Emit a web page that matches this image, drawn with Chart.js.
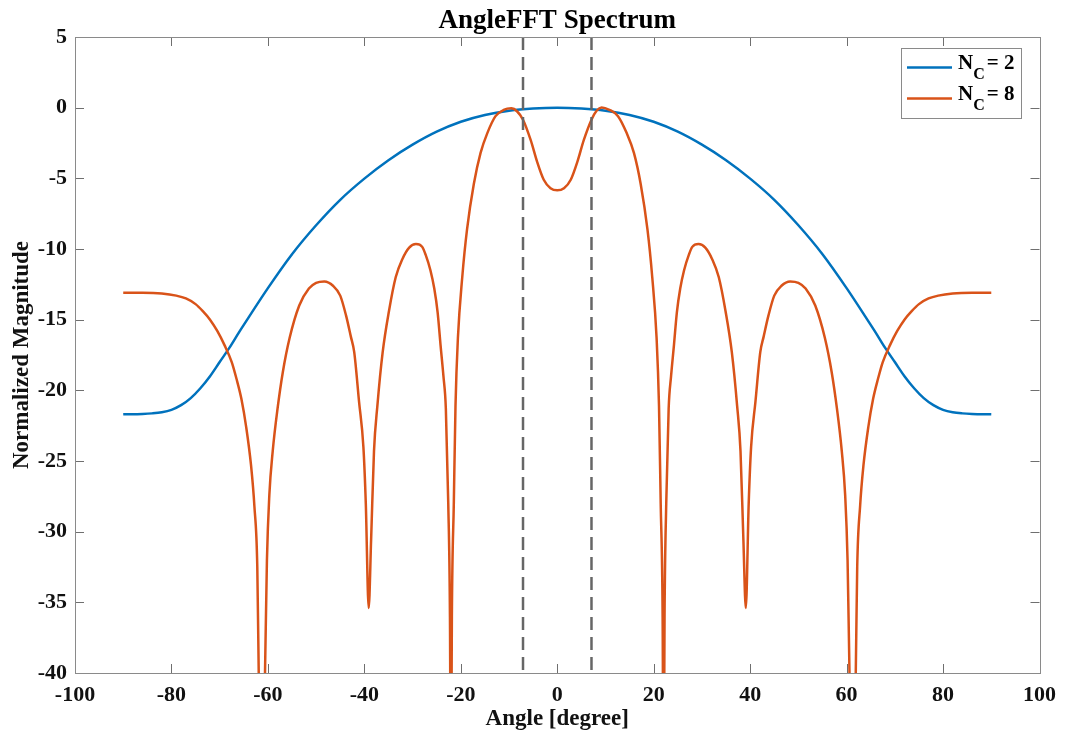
<!DOCTYPE html>
<html>
<head>
<meta charset="utf-8">
<script src="https://cdn.jsdelivr.net/npm/chart.js@4.4.1/dist/chart.umd.min.js"></script>
<style>
    html, body { margin: 0; padding: 0; background: #fff; }
    #wrap { width: 1065px; height: 742px; }
</style>
</head>
<body>
<div id="wrap"><canvas id="spectrumGraph" width="1065" height="742"></canvas></div>
<script>
// angle axis [deg] and normalized magnitude [dB]
const nc2Angles = [-90, -86, -84, -82, -80, -78, -76, -74, -72, -70, -68, -66, -65, -60, -55, -50, -45, -40,
    -35, -30, -25, -20, -15, -10, -5, 0,
    5, 10, 15, 20, 25, 30, 35, 40, 45, 50, 55, 60, 65, 66, 68, 70, 72, 74, 76, 78, 80, 82, 84, 86, 90];
const nc2Mag = [-21.7, -21.67, -21.63, -21.55, -21.38, -21.05, -20.55, -19.85, -19.0, -18.0, -17.0, -15.9, -15.37, -12.77, -10.37, -8.32, -6.52, -5.02,
    -3.72, -2.62, -1.7, -1.0, -0.52, -0.22, -0.06, 0,
    -0.06, -0.22, -0.52, -1.0, -1.7, -2.62, -3.72, -5.02, -6.52, -8.32, -10.37, -12.77, -15.37, -15.9, -17.0, -18.0, -19.0, -19.85, -20.55, -21.05, -21.38, -21.55, -21.63, -21.67, -21.7];

const nc8Angles = [-90, -86, -82, -79, -77, -75, -73.5, -72, -70.5, -69, -67.5, -66.5, -65.5, -64.5, -63.5, -62.8, -62.2, -61.9, -61.25, -60.6, -60.2,
    -59.7, -59, -58, -56.9, -55.5, -53.5, -51.5, -50, -48.3, -46.5, -45, -43.8, -42.8, -42.1, -41.1, -40.2, -39.7, -39.1, -38.6,
    -38, -37.3, -36.2, -34.9, -33.5, -32.1, -30.7, -29.3, -28, -27.3, -26.3, -25.5, -24.8, -24.2, -23.6, -23.1, -22.6, -22.25, -22.05, -21.85,
    -21.45, -21.1, -20.6, -19.7, -18.7, -17.3, -15.9, -14.5, -12.8, -11.1, -9.5, -8.3, -7.1, -5.5, -4.2, -2.8, -1.4, 0,
    1.4, 2.8, 4.2, 5.5, 7.1, 8.2, 9.2, 10.8, 12.6, 14.4, 15.9, 17.3, 18.7, 19.7, 20.6, 21.1, 21.45,
    21.85, 22.05, 22.25, 22.6, 23.1, 23.6, 24.2, 24.8, 25.5, 26.3, 27.3, 28, 29.3, 30.7, 32.1, 33.5, 34.9, 36.2, 37.3, 38,
    38.6, 39.1, 39.7, 40.2, 41.1, 42.1, 42.8, 43.8, 45, 46.5, 48.3, 50, 51.5, 53.5, 55.5, 56.9, 58, 59, 59.7,
    60.2, 60.6, 61.25, 61.9, 62.2, 62.8, 63.5, 64.5, 65.5, 66.5, 67.5, 69, 70.5, 72, 73.5, 75, 77, 79, 82, 86, 90];
const nc8Mag = [-13.1, -13.1, -13.15, -13.3, -13.5, -13.9, -14.4, -15.0, -15.8, -16.8, -18.0, -19.2, -20.6, -22.6, -25.3, -28.2, -32.5, -40, -50, -40, -32,
    -27.4, -24.3, -21.3, -18.7, -16.3, -14.0, -12.8, -12.4, -12.3, -12.6, -13.3, -14.7, -16.2, -17.3, -20.8, -24.0, -28, -35.4, -30.6,
    -24.3, -21.1, -17.3, -14.4, -12.0, -10.7, -9.9, -9.65, -9.85, -10.4, -11.5, -12.8, -14.5, -16.8, -19, -21.3, -28, -36, -50, -36,
    -28, -21.1, -16.3, -12.0, -8.6, -5.4, -3.2, -1.8, -0.6, -0.16, -0.05, -0.27, -0.85, -2.3, -3.8, -5.1, -5.7, -5.85,
    -5.7, -5.1, -3.8, -2.3, -0.85, -0.2, 0.02, -0.15, -0.6, -1.8, -3.2, -5.4, -8.6, -12.0, -16.3, -21.1, -28,
    -36, -50, -36, -28, -21.3, -19, -16.8, -14.5, -12.8, -11.5, -10.4, -9.85, -9.65, -9.9, -10.7, -12.0, -14.4, -17.3, -21.1, -24.3,
    -30.6, -35.4, -28, -24.0, -20.8, -17.3, -16.2, -14.7, -13.3, -12.6, -12.3, -12.4, -12.8, -14.0, -16.3, -18.7, -21.3, -24.3, -27.4,
    -32, -40, -50, -40, -32.5, -28.2, -25.3, -22.6, -20.6, -19.2, -18.0, -16.8, -15.8, -15.0, -14.4, -13.9, -13.5, -13.3, -13.15, -13.1, -13.1];

// half-power markers
const markerAngles = [-7.1, 7.1];
const ncValues = [2, 8];

const xMin = -100, xMax = 100, xStep = 20;
const yMin = -40, yMax = 5, yStep = 5;

const blue = '#0072BD';
const orange = '#D95319';
const serif = '"Liberation Serif", "Times New Roman", serif';

function toPoints(xs, ys) {
    return xs.map(function (v, i) { return {x: v, y: ys[i]}; });
}

// box, inward ticks, title and legend in the matlab look
const axesFrame = {
    id: 'axesFrame',
    afterDatasetsDraw: function (chart) {
        const ctx = chart.ctx;
        const a = chart.chartArea;
        const x = chart.scales.x, y = chart.scales.y;
        ctx.save();
        ctx.strokeStyle = '#6f6f6f';
        ctx.lineWidth = 1;
        ctx.beginPath();
        x.ticks.forEach(function (t) {
            const px = Math.round(x.getPixelForValue(t.value)) + 0.5;
            ctx.moveTo(px, a.bottom); ctx.lineTo(px, a.bottom - 9);
            ctx.moveTo(px, a.top); ctx.lineTo(px, a.top + 9);
        });
        y.ticks.forEach(function (t) {
            const py = Math.round(y.getPixelForValue(t.value)) + 0.5;
            ctx.moveTo(a.left, py); ctx.lineTo(a.left + 9, py);
            ctx.moveTo(a.right, py); ctx.lineTo(a.right - 9, py);
        });
        ctx.stroke();
        ctx.strokeStyle = '#8a8a8a';
        ctx.strokeRect(Math.round(a.left) + 0.5, Math.round(a.top) + 0.5,
            Math.round(a.right - a.left), Math.round(a.bottom - a.top));

        // legend
        const lx = 901, ly = 48, lw = 120, lh = 70;
        ctx.fillStyle = '#fff';
        ctx.fillRect(lx, ly, lw, lh);
        ctx.strokeStyle = '#8a8a8a';
        ctx.strokeRect(lx + 0.5, ly + 0.5, lw, lh);
        chart.data.datasets.slice(0, 2).forEach(function (ds, i) {
            const rowY = 67.5 + i * 31;
            ctx.strokeStyle = ds.borderColor;
            ctx.lineWidth = 2.5;
            ctx.beginPath();
            ctx.moveTo(907, rowY); ctx.lineTo(952, rowY);
            ctx.stroke();
            ctx.fillStyle = '#000';
            ctx.textBaseline = 'alphabetic';
            ctx.textAlign = 'left';
            let tx = 958;
            ctx.font = 'bold 21px ' + serif;
            ctx.fillText('N', tx, rowY + 1.5);
            tx += ctx.measureText('N').width;
            ctx.font = 'bold 16px ' + serif;
            ctx.fillText('C', tx, rowY + 11);
            tx += ctx.measureText('C').width + 2;
            ctx.font = 'bold 21px ' + serif;
            ctx.fillText('= ' + ncValues[i], tx, rowY + 1.5);
        });
        ctx.restore();
    },
    afterDraw: function (chart) {
        const ctx = chart.ctx;
        const a = chart.chartArea;
        ctx.save();
        ctx.fillStyle = '#000';
        ctx.font = 'bold 27px ' + serif;
        ctx.textAlign = 'center';
        ctx.textBaseline = 'alphabetic';
        ctx.fillText('AngleFFT Spectrum', (a.left + a.right) / 2, 28);
        ctx.restore();
    }
};

const datasets = [
    {
        label: 'N_C = 2',
        data: toPoints(nc2Angles, nc2Mag),
        borderColor: blue,
        borderWidth: 2.5,
        pointRadius: 0,
        cubicInterpolationMode: 'monotone',
        order: 2
    },
    {
        label: 'N_C = 8',
        data: toPoints(nc8Angles, nc8Mag),
        borderColor: orange,
        borderWidth: 2.5,
        pointRadius: 0,
        cubicInterpolationMode: 'monotone',
        order: 1
    }
];
markerAngles.forEach(function (ang) {
    datasets.push({
        label: 'marker',
        data: [{x: ang, y: yMax}, {x: ang, y: yMin}],
        borderColor: '#666666',
        borderWidth: 2.5,
        borderDash: [13, 7],
        pointRadius: 0,
        order: 0
    });
});

const tickFont = {family: serif, size: 22, weight: 'bold'};
const labelFont = {family: serif, size: 23, weight: 'bold'};

new Chart(document.getElementById('spectrumGraph'), {
    type: 'line',
    data: {datasets: datasets},
    plugins: [axesFrame],
    options: {
        responsive: false,
        animation: false,
        layout: {padding: {left: 0, right: 23, top: 37, bottom: 0}},
        plugins: {
            legend: {display: false},
            tooltip: {enabled: false},
            title: {display: false}
        },
        scales: {
            x: {
                type: 'linear',
                min: xMin,
                max: xMax,
                border: {display: false},
                grid: {display: false, drawTicks: false},
                ticks: {stepSize: xStep, font: tickFont, color: '#111', padding: 9, maxRotation: 0},
                title: {display: true, text: 'Angle [degree]', font: labelFont, color: '#111', padding: {top: 0, bottom: 9}},
                afterFit: function (scale) { scale.height = 69; }
            },
            y: {
                type: 'linear',
                min: yMin,
                max: yMax,
                border: {display: false},
                grid: {display: false, drawTicks: false},
                ticks: {stepSize: yStep, font: tickFont, color: '#111', padding: 8},
                title: {display: true, text: 'Normalized Magnitude', font: labelFont, color: '#111', padding: {top: 8, bottom: 0}},
                afterFit: function (scale) { scale.width = 75; }
            }
        }
    }
});
</script>
</body>
</html>
